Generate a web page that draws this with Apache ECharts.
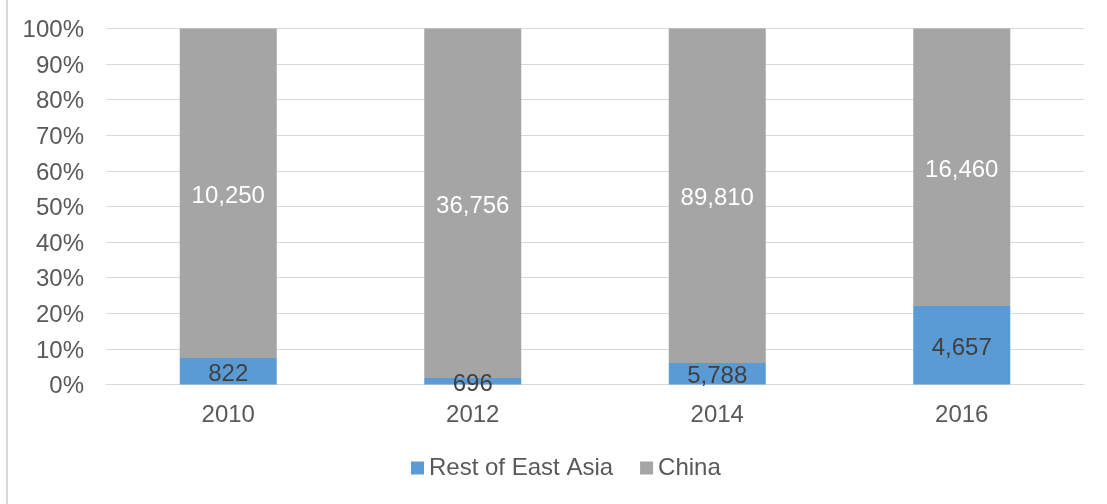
<!DOCTYPE html>
<html>
<head>
<meta charset="utf-8">
<script src="https://cdn.jsdelivr.net/npm/echarts@6/dist/echarts.min.js"></script>
<style>
  html, body { margin: 0; padding: 0; background: #fff; }
  #frame { position: absolute; left: 6px; top: 0; width: 1101px; height: 504px; border-left: 2px solid #d9d9d9; box-sizing: border-box; }
  #chart { position: absolute; left: 0; top: 0; width: 1107px; height: 504px; }
</style>
</head>
<body>
<div id="frame"></div>
<div id="chart"></div>
<script>
// Years and absolute values for each group
const years = ['2010', '2012', '2014', '2016'];
const restOfEastAsia = [822, 696, 5788, 4657];
const china = [10250, 36756, 89810, 16460];
const yTickLabels = ['0%', '10%', '20%', '30%', '40%', '50%', '60%', '70%', '80%', '90%', '100%'];

// Share of each year's total, so the bars stack to 100%
const totals = years.map((_, i) => restOfEastAsia[i] + china[i]);
const share = (arr) => arr.map((v, i) => ({ value: v / totals[i] * 100, raw: v }));
const fmt = (n) => n.toLocaleString('en-US');

const font = 'Liberation Sans, Arial, sans-serif';
const chart = echarts.init(document.getElementById('chart'), null, { renderer: 'canvas' });
chart.setOption({
  animation: false,
  textStyle: { fontFamily: font },
  grid: { left: 106, right: 23, top: 28.5, bottom: 119.5, containLabel: false },
  legend: {
    bottom: 19,
    left: 406,
    itemWidth: 13,
    itemHeight: 13,
    itemGap: 27,
    icon: 'rect',
    textStyle: { fontFamily: font, fontSize: 24, color: '#595959' },
    data: ['Rest of East Asia', 'China']
  },
  xAxis: {
    type: 'category',
    data: years,
    axisLine: { lineStyle: { color: '#d9d9d9', width: 1 } },
    axisTick: { show: false },
    axisLabel: { fontFamily: font, fontSize: 24, color: '#595959', margin: 19 }
  },
  yAxis: {
    type: 'value',
    min: 0,
    max: 100,
    interval: 10,
    axisLine: { show: false },
    axisTick: { show: false },
    splitLine: { lineStyle: { color: '#d9d9d9', width: 1 } },
    axisLabel: {
      fontFamily: font, fontSize: 24, color: '#595959', margin: 22,
      formatter: (v) => '{t|' + yTickLabels[Math.round(v / 10)] + '}',
      rich: { t: { fontFamily: font, fontSize: 24, color: '#595959', padding: [4, 0, 0, 0] } }
    }
  },
  series: [
    {
      name: 'Rest of East Asia',
      type: 'bar',
      stack: 'share',
      barWidth: 97,
      itemStyle: { color: '#5b9bd5' },
      label: {
        show: true, position: 'inside', offset: [0, 3], fontFamily: font, fontSize: 24, color: '#404040',
        formatter: (p) => fmt(p.data.raw)
      },
      data: share(restOfEastAsia)
    },
    {
      name: 'China',
      type: 'bar',
      stack: 'share',
      barWidth: 97,
      itemStyle: { color: '#a5a5a5' },
      label: {
        show: true, position: 'inside', offset: [0, 3], fontFamily: font, fontSize: 24, color: '#ffffff',
        formatter: (p) => fmt(p.data.raw)
      },
      data: share(china)
    }
  ]
});
</script>
</body>
</html>
